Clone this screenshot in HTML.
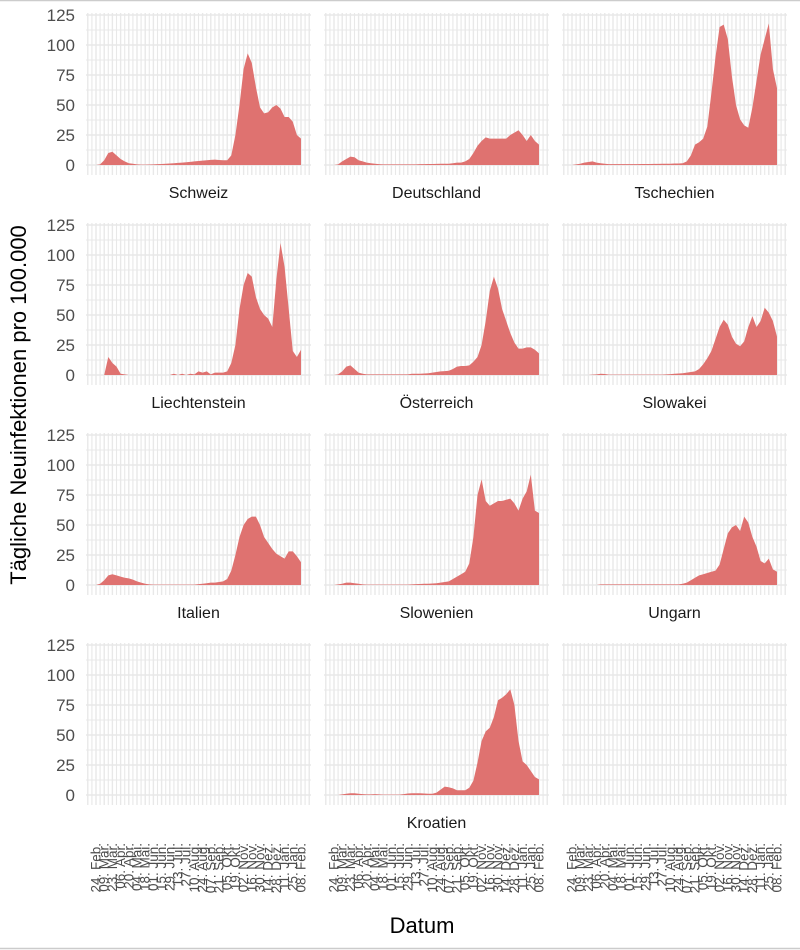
<!DOCTYPE html>
<html><head><meta charset="utf-8"><style>
html,body{margin:0;padding:0;background:#fff;}
svg{display:block;font-family:"Liberation Sans",Arial,sans-serif;}
</style></head><body>
<svg id="chart" width="800" height="950" viewBox="0 0 800 950">
<line x1="0" y1="0.5" x2="800" y2="0.5" stroke="#cccccc" stroke-width="1.5"/>
<line x1="0" y1="948.5" x2="800" y2="948.5" stroke="#cccccc" stroke-width="1.5"/>
<g id="panels"></g>
<text x="0" y="0" transform="translate(26,405) rotate(-90)" text-anchor="middle" font-size="22" fill="#000">Tägliche Neuinfektionen pro 100.000</text>
<text x="422" y="933" text-anchor="middle" font-size="22" fill="#000">Datum</text>
</svg>
<script>
const countries = ["Schweiz","Deutschland","Tschechien","Liechtenstein","Österreich","Slowakei","Italien","Slowenien","Ungarn","","Kroatien",""];
const schweiz = [0,0.5,4,10,11,8,5,3,1.5,1,0.5,0.3,0.3,0.4,0.5,0.7,0.8,1,1.2,1.5,1.8,2,2.3,2.6,3,3.3,3.6,4,4.3,4.5,4.2,4,4,8,25,50,80,93,85,65,48,43,44,48,50,47,40,40,36,25,22];
const deutschland = [0,0.5,3,5,7,6.5,4,3,2,1.5,1,0.7,0.5,0.5,0.5,0.5,0.5,0.5,0.5,0.5,0.5,0.7,0.7,0.8,0.8,0.9,1,1,1,1.5,2,2,3,5,10,16,20,23,22,22,22,22,22,25,27,29,25,20,25,20,17];
const tschechien = [0,0.5,1,2,2.5,3,2,1.5,1,0.7,0.7,0.7,0.7,0.7,0.7,0.7,0.7,0.8,0.8,0.8,0.9,0.9,1,1,1,1.2,1.3,1.5,3,8,17,19,22,32,60,90,115,117,105,74,50,38,33,31,48,70,92,105,118,80,64];
const liechtenstein = [0,0,0,15,10,7,1,0.5,0,0,0,0,0,0,0,0,0,0,0,1,0,1,0,1,0.5,3,2,3,0.5,2,2,2,3,10,25,55,75,85,82,65,55,50,47,40,80,110,90,55,20,15,21];
const oesterreich = [0,0.5,3,7,8,5,2,1,0.5,0.5,0.5,0.5,0.5,0.5,0.5,0.5,0.5,0.5,0.5,1,1,1,1.2,1.5,2,2.5,3,3.2,3.5,5,7,7.5,7.5,8,11,15,25,45,70,82,72,55,45,35,27,22,22,23,23,21,18];
const slowakei = [0,0,0,0,0,0.3,0.5,1,0.8,0.3,0.3,0.3,0.3,0.3,0.3,0.3,0.3,0.3,0.3,0.3,0.3,0.3,0.3,0.5,0.7,1,1.2,1.5,2,2.5,3,5,9,14,20,30,40,46,42,32,26,24,28,40,49,40,45,56,52,45,32];
const italien = [0,1,4,8,9,8,7,6,5.5,4.5,3,2,1,0.5,0.3,0.3,0.3,0.3,0.3,0.3,0.3,0.3,0.3,0.3,0.3,0.7,1,1.5,2,2,2.5,3,5,12,25,40,50,55,57,57,50,40,35,30,26,24,22,28,28,24,19];
const slowenien = [0,0.5,1,2,2,1.5,1,0.5,0.3,0.3,0.3,0.3,0.3,0.3,0.3,0.3,0.3,0.3,0.3,0.5,0.7,0.8,1,1,1.2,1.5,2,2.5,3,5,7,9,11,18,40,75,88,70,66,68,70,70,71,72,68,62,72,78,92,62,60];
const ungarn = [0,0,0,0,0,0,0,0.5,0.5,0.5,0.5,0.5,0.5,0.5,0.5,0.5,0.5,0.5,0.5,0.5,0.5,0.5,0.5,0.5,0.5,0.5,0.5,1,2,4,6,8,9,10,11,12,17,30,43,48,50,45,57,52,40,32,20,18,22,13,11];
const kroatien = [0,0,0.5,1,1.5,1.5,1,0.7,0.5,0.5,0.7,0.5,0.3,0.3,0.3,0.3,0.3,0.7,1.2,1.5,1.5,1.5,1.2,1,1,2,4.5,7,6.5,5.5,4,4,4,6,12,27,45,53,56,65,79,81,84,88,75,45,28,25,20,15,13];
const seriesList = [schweiz,deutschland,tschechien,liechtenstein,oesterreich,slowakei,italien,slowenien,ungarn,null,kroatien,null];
const yTicks = [0,25,50,75,100,125];
const dateLabels = ["24. Feb.","09. Mär.","23. Mär.","06. Apr.","20. Apr.","04. Mai.","18. Mai.","01. Jun.","15. Jun.","29. Jun.","13. Jul.","27. Jul.","10. Aug.","24. Aug.","07. Sep.","21. Sep.","05. Okt.","19. Okt.","02. Nov.","16. Nov.","30. Nov.","14. Dez.","28. Dez.","11. Jan.","25. Jan.","08. Feb."];

const NS = "http://www.w3.org/2000/svg";
const root = document.getElementById("panels");
const colLeft = [86,324,562], panelW = 225;
const rowZero = [165,375,585,795];
function xScale(col, week){ return colLeft[col] + 10 + week*4.1; }
function yScale(row, v){ return rowZero[row] - v*150/125; }
function mk(tag, attrs, parent){ const e=document.createElementNS(NS,tag); for(const k in attrs) e.setAttribute(k,attrs[k]); parent.appendChild(e); return e; }

for(let p=0;p<12;p++){
  const row=Math.floor(p/3), col=p%3;
  const g = mk("g",{},root);
  
  
  const left=colLeft[col], right=left+panelW;
  const top=yScale(row,125)-2, bottom=rowZero[row]+10;
  for(let w=-2; w<=52; w++){
    const x=xScale(col,w);
    if(x<left||x>right) continue;
    const ln = mk("line",{x1:x,x2:x,y1:top,y2:bottom,stroke:"#e8e8e8","stroke-width":w%2===0?1.4:1.1},g);
    
    
  }
  for(let v=0; v<=125; v+=12.5){
    const y=yScale(row,v);
    const ln = mk("line",{x1:left,x2:right,y1:y,y2:y,stroke:"#e8e8e8","stroke-width":(v%25===0)?1.4:0.9},g);
    
    
  }
  const s = seriesList[p];
  if(s){
    let d = "M"+xScale(col,0)+","+yScale(row,0);
    s.forEach((v,i)=>{ d += " L"+xScale(col,i).toFixed(2)+","+yScale(row,v).toFixed(2); });
    d += " L"+xScale(col,s.length-1)+","+yScale(row,0)+" Z";
    const a = mk("path",{d:d,fill:"#df7270"},g);
    
    
  }
  if(countries[p]){
    const t = mk("text",{x:left+panelW/2,y:rowZero[row]+33,"text-anchor":"middle","font-size":"16",fill:"#1a1a1a"},g);
    t.textContent=countries[p];
    
    
  }
  if(col===0){
    yTicks.forEach(v=>{
      const t = mk("text",{x:75,y:yScale(row,v)+6,"text-anchor":"end","font-size":"17",fill:"#4d4d4d"},g);
      t.textContent=v;
      
      
    });
  }
}
for(let col=0;col<3;col++){
  dateLabels.forEach((lab,k)=>{
    const x=xScale(col,k*2)+4.5;
    const t = mk("text",{x:0,y:0,transform:"translate("+x.toFixed(2)+",843) rotate(-90)","text-anchor":"end","font-size":"13.5",fill:"#4d4d4d"},root);
    t.textContent=lab;
    
    
  });
}
</script>
</body></html>
